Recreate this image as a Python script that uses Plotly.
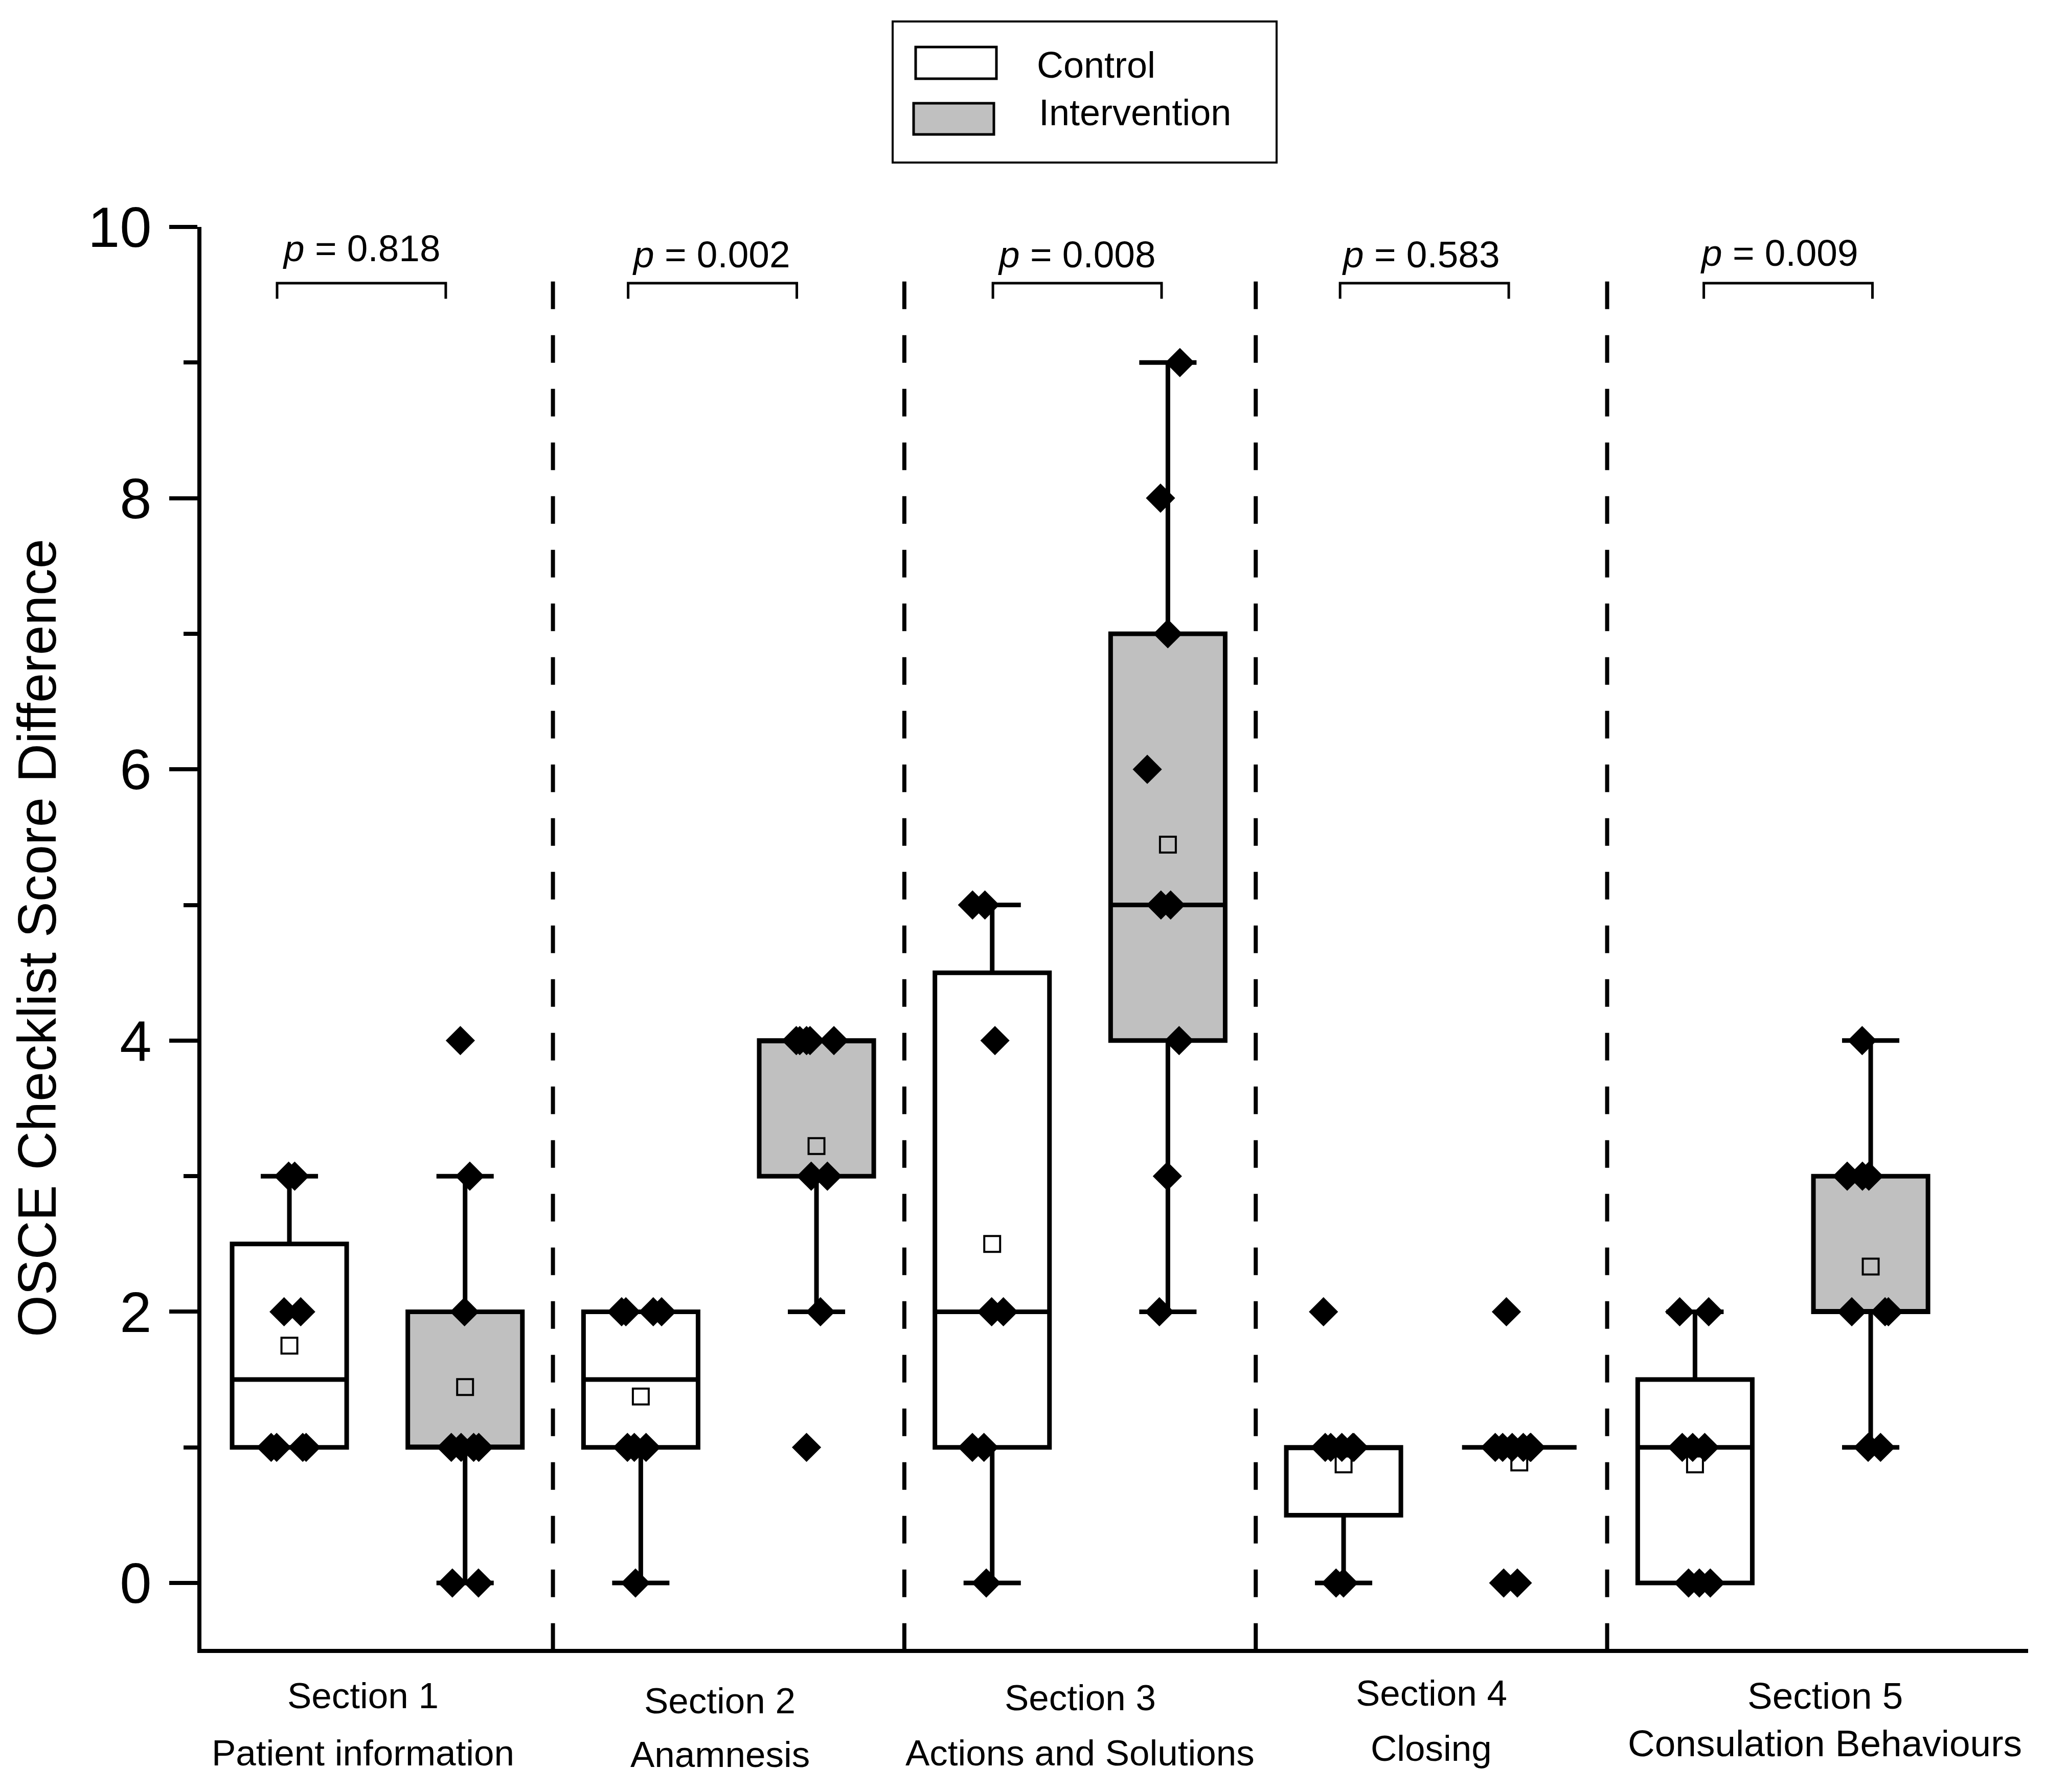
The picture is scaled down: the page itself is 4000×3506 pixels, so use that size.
import numpy as np
import plotly.graph_objects as go

# ---------------- data ----------------
section_titles = ["Section 1", "Section 2", "Section 3", "Section 4", "Section 5"]
section_subtitles = ["Patient information", "Anamnesis", "Actions and Solutions",
                     "Closing", "Consulation Behaviours"]
p_values = ["0.818", "0.002", "0.008", "0.583", "0.009"]
group_names = ["Control", "Intervention"]

control_s1 = [1, 1, 1, 1, 2, 2, 3, 3]
control_s2 = [0, 1, 1, 1, 2, 2, 2, 2]
control_s3 = [0, 1, 1, 2, 2, 4, 5, 5]
control_s4 = [0, 0, 1, 1, 1, 1, 1, 2]
control_s5 = [0, 0, 0, 1, 1, 1, 2, 2]

intervention_s1 = [0, 0, 1, 1, 1, 1, 2, 3, 4]
intervention_s2 = [1, 2, 3, 3, 4, 4, 4, 4, 4]
intervention_s3 = [2, 3, 4, 5, 5, 6, 7, 8, 9]
intervention_s4 = [0, 0, 1, 1, 1, 1, 1, 1, 2]
intervention_s5 = [1, 1, 2, 2, 2, 3, 3, 3, 4]

y_range = [-0.486, 10]

# ---------------- layout helpers ----------------
# the page body adds an 8px margin, so the figure is 8px smaller than the window
OFF = 8
W, H = 4000 - OFF, 3506 - OFF
ML = 394 - OFF
MT = 444 - OFF
MR = W - (3967 - OFF)
MB = H - (3226 - OFF)
FONT = "Liberation Sans, Arial, Helvetica, sans-serif"


def px_x(px):
    return (px - OFF - ML) / (W - ML - MR)


def px_y(py):
    return (H - MB - (py - OFF)) / (H - MT - MB)


sec_pos = np.arange(1, 6)
offset = 0.25
box_width = 0.326
label_x = [0.96, 1.975, 3.0, 4.0, 5.12]
label_line1_py = [3317, 3327, 3321, 3313, 3318]
label_line2_py = [3429, 3432, 3429, 3420, 3410]
label_sizes = [71, 71, 71, 71, 73]
bracket_center = [0.955, 1.954, 2.992, 3.98, 5.015]
p_text_x = [0.955, 1.95, 2.99, 3.97, 4.99]
p_text_y = [9.845, 9.80, 9.80, 9.80, 9.81]

control_groups = [control_s1, control_s2, control_s3, control_s4, control_s5]
intervention_groups = [intervention_s1, intervention_s2, intervention_s3,
                       intervention_s4, intervention_s5]

fig = go.Figure()

for name, groups, sign, fill in [(group_names[0], control_groups, -1, "white"),
                                 (group_names[1], intervention_groups, 1, "#C0C0C0")]:
    xs, ys = [], []
    for pos, vals in zip(sec_pos, groups):
        xs += [pos + sign * offset] * len(vals)
        ys += list(vals)
    fig.add_trace(go.Box(
        x=xs, y=ys, name=name, width=box_width,
        fillcolor=fill, line=dict(color="black", width=9),
        whiskerwidth=0.5, boxpoints="all", jitter=0.45, pointpos=0,
        quartilemethod="inclusive", boxmean=False,
        marker=dict(symbol="diamond", size=44, color="black",
                    line=dict(width=0)),
        showlegend=False,
    ))
    fig.add_trace(go.Scatter(
        x=[pos + sign * offset for pos in sec_pos],
        y=[float(np.mean(v)) for v in groups],
        mode="markers", name=name + " mean",
        marker=dict(symbol="square-open", size=31, color="black",
                    line=dict(width=4, color="black")),
        showlegend=False, cliponaxis=False,
    ))

shapes = []
annotations = []

# dashed separators
for s in sec_pos[:-1]:
    shapes.append(dict(type="line", xref="x", yref="y", x0=s + 0.5, x1=s + 0.5,
                       y0=-0.5, y1=9.78,
                       line=dict(color="black", width=8, dash="54px,51px")))

# p-value brackets and texts
for i, c in enumerate(bracket_center):
    x0, x1 = c - 0.24, c + 0.24
    shapes.append(dict(type="path", xref="x", yref="y",
                       path=f"M {x0},9.47 L {x0},9.585 L {x1},9.585 L {x1},9.47",
                       line=dict(color="black", width=5)))
    annotations.append(dict(x=p_text_x[i], y=p_text_y[i], xref="x", yref="y",
                            text=f"<i>p</i> = {p_values[i]}", showarrow=False,
                            xanchor="center", yanchor="middle",
                            font=dict(size=73, family=FONT, color="black")))

# category labels (below the axis)
for i in range(5):
    annotations.append(dict(x=label_x[i], y=px_y(label_line1_py[i]), xref="x", yref="paper",
                            text=section_titles[i], showarrow=False,
                            xanchor="center", yanchor="middle",
                            font=dict(size=label_sizes[i], family=FONT, color="black")))
    annotations.append(dict(x=label_x[i], y=px_y(label_line2_py[i]), xref="x", yref="paper",
                            text=section_subtitles[i], showarrow=False,
                            xanchor="center", yanchor="middle",
                            font=dict(size=label_sizes[i], family=FONT, color="black")))

# manual legend
shapes.append(dict(type="rect", xref="paper", yref="paper",
                   x0=px_x(1746), x1=px_x(2497), y0=px_y(318), y1=px_y(42),
                   line=dict(color="black", width=4), fillcolor="white"))
shapes.append(dict(type="rect", xref="paper", yref="paper",
                   x0=px_x(1791), x1=px_x(1949), y0=px_y(154), y1=px_y(92),
                   line=dict(color="black", width=5), fillcolor="white"))
shapes.append(dict(type="rect", xref="paper", yref="paper",
                   x0=px_x(1787), x1=px_x(1944), y0=px_y(263), y1=px_y(202),
                   line=dict(color="black", width=5), fillcolor="#C0C0C0"))
annotations.append(dict(x=px_x(2026), y=px_y(127), xref="paper", yref="paper",
                        text=group_names[0], showarrow=False, xanchor="left",
                        yanchor="middle",
                        font=dict(size=72, family=FONT, color="black")))
annotations.append(dict(x=px_x(2030), y=px_y(220), xref="paper", yref="paper",
                        text=group_names[1], showarrow=False, xanchor="left",
                        yanchor="middle",
                        font=dict(size=72, family=FONT, color="black")))

fig.update_layout(
    width=W, height=H,
    margin=dict(l=ML, r=MR, t=MT, b=MB, autoexpand=False),
    paper_bgcolor="white", plot_bgcolor="white",
    boxmode="overlay",
    showlegend=False,
    shapes=shapes, annotations=annotations,
    font=dict(family=FONT, color="black"),
    xaxis=dict(range=[0.4997, 5.698], showline=True, linewidth=8, linecolor="black",
               showticklabels=False, ticks="", showgrid=False, zeroline=False,
               fixedrange=True),
    yaxis=dict(range=y_range, tickmode="linear", tick0=0, dtick=2,
               ticks="outside", ticklen=55, tickwidth=8, tickcolor="black",
               showline=True, linewidth=8, linecolor="black",
               showgrid=False, zeroline=False,
               tickfont=dict(size=112, family=FONT, color="black"),
               ticklabelstandoff=12,
               minor=dict(dtick=1, tick0=0, ticks="outside", ticklen=27,
                          tickwidth=8, tickcolor="black", showgrid=False),
               title=dict(text="OSCE Checklist Score Difference",
                          font=dict(size=105, family=FONT, color="black"),
                          standoff=30)),
)

fig.write_html("out.html")
